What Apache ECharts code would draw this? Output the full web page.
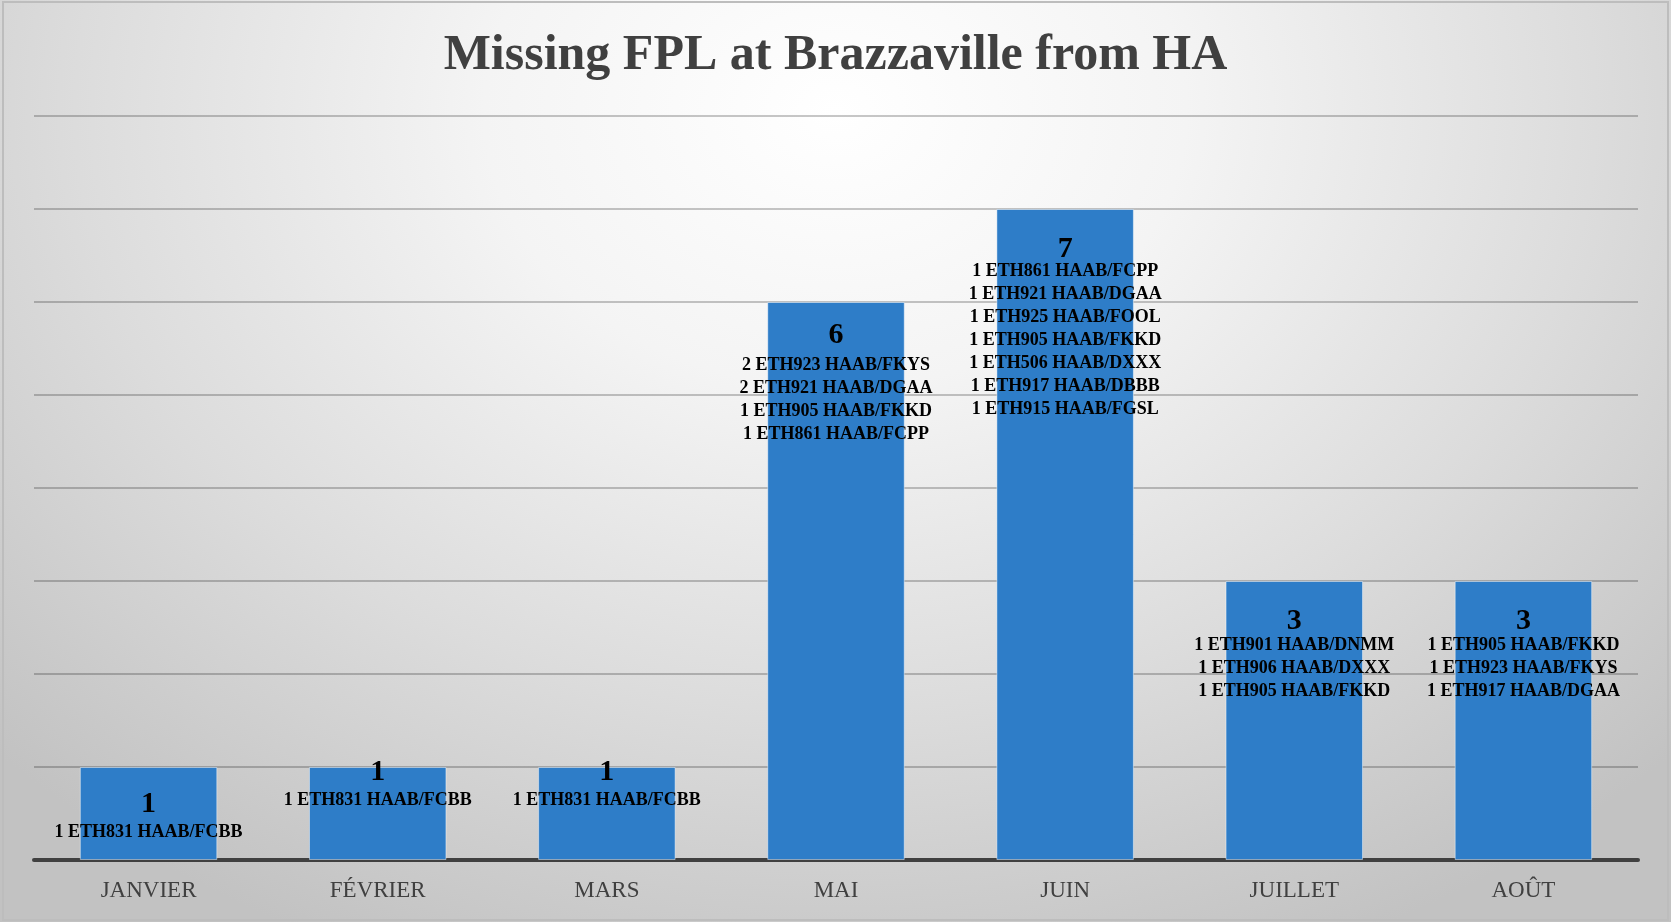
<!DOCTYPE html>
<html>
<head>
<meta charset="utf-8">
<title>Missing FPL at Brazzaville from HA</title>
<script src="https://cdn.jsdelivr.net/npm/echarts@6.0.0/dist/echarts.min.js"></script>
<style>
  html, body { margin: 0; padding: 0; background: #fff; }
  #chart {
    width: 1671px;
    height: 922px;
    background: radial-gradient(ellipse 70% 100% at 50% 12%, #ffffff 0%, #f4f4f4 30%, #dcdcdc 65%, #c2c2c2 100%);
  }
</style>
</head>
<body>
<div id="chart"></div>
<script>
// months on the x axis
const months = ['JANVIER', 'FÉVRIER', 'MARS', 'MAI', 'JUIN', 'JUILLET', 'AOÛT']
// number of missing FPL per month
const missing = [1, 1, 1, 6, 7, 3, 3]
// flight breakdown shown under each count
const flights = [
  ['1 ETH831 HAAB/FCBB'],
  ['1 ETH831 HAAB/FCBB'],
  ['1 ETH831 HAAB/FCBB'],
  ['2 ETH923 HAAB/FKYS', '2 ETH921 HAAB/DGAA', '1 ETH905 HAAB/FKKD', '1 ETH861 HAAB/FCPP'],
  ['1 ETH861 HAAB/FCPP', '1 ETH921 HAAB/DGAA', '1 ETH925 HAAB/FOOL', '1 ETH905 HAAB/FKKD',
   '1 ETH506 HAAB/DXXX', '1 ETH917 HAAB/DBBB', '1 ETH915 HAAB/FGSL'],
  ['1 ETH901 HAAB/DNMM', '1 ETH906 HAAB/DXXX', '1 ETH905 HAAB/FKKD'],
  ['1 ETH905 HAAB/FKKD', '1 ETH923 HAAB/FKYS', '1 ETH917 HAAB/DGAA'],
]

// label placement (pixels below the bar top), as laid out in the original
const countOffsets = [22, -10, -10, 18, 25, 25, 25]
const flightOffsets = [54, 22, 22, 52, 51, 53, 53]

const serif = '"Liberation Serif", "DejaVu Serif", serif'
const barBlue = '#2e7dc8'

const chart = echarts.init(document.getElementById('chart'))

chart.setOption({
  backgroundColor: 'transparent',
  animation: false,
  title: {
    text: 'Missing FPL at Brazzaville from HA',
    left: 'center',
    top: 26,
    textStyle: {
      fontFamily: serif,
      fontSize: 50,
      lineHeight: 50,
      fontWeight: 'bold',
      color: '#404040',
    },
  },
  graphic: [
    {
      type: 'rect',
      silent: true,
      shape: { x: 3, y: 2, width: 1665, height: 918 },
      style: { fill: 'none', stroke: '#bdbdbd', lineWidth: 2 },
    },
  ],
  grid: {
    left: 34,
    right: 33,
    top: 116,
    bottom: 62,
  },
  xAxis: {
    type: 'category',
    data: months,
    axisLine: { lineStyle: { color: '#404040', width: 4 } },
    axisTick: { show: false },
    axisLabel: {
      fontFamily: serif,
      fontSize: 23,
      color: '#404040',
      margin: 19,
    },
  },
  yAxis: {
    type: 'value',
    min: 0,
    max: 8,
    interval: 1,
    axisLabel: { show: false },
    axisLine: { show: false },
    axisTick: { show: false },
    splitLine: { lineStyle: { color: 'rgba(0,0,0,0.22)', width: 2 } },
  },
  series: [
    {
      name: 'count',
      type: 'bar',
      barCategoryGap: '40%',
      data: missing.map((v, i) => ({
        value: v,
        label: { offset: [0, countOffsets[i]] },
      })),
      itemStyle: {
        color: barBlue,
        borderColor: 'rgba(255,255,255,0.45)',
        borderWidth: 1,
      },
      label: {
        show: true,
        position: 'insideTop',
        distance: 0,
        fontFamily: serif,
        fontSize: 30,
        lineHeight: 30,
        fontWeight: 'bold',
        color: '#000',
        textBorderWidth: 0,
      },
      z: 2,
    },
    {
      name: 'flights',
      type: 'bar',
      barGap: '-100%',
      barCategoryGap: '40%',
      silent: true,
      data: missing.map((v, i) => ({
        value: v,
        label: { offset: [0, flightOffsets[i]] },
      })),
      itemStyle: { color: 'rgba(0,0,0,0)' },
      label: {
        show: true,
        position: 'insideTop',
        distance: 0,
        formatter: (p) => flights[p.dataIndex].join('\n'),
        fontFamily: serif,
        fontSize: 18,
        lineHeight: 23,
        fontWeight: 'bold',
        color: '#000',
        textBorderWidth: 0,
        textBorderColor: 'transparent',
      },
      z: 3,
    },
  ],
})

window.addEventListener('resize', () => chart.resize())
</script>
</body>
</html>
